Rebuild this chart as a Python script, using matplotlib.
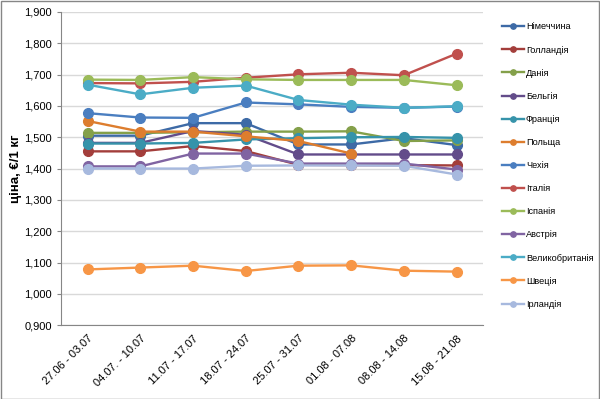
import numpy as np
import matplotlib.pyplot as plt
from matplotlib.ticker import FuncFormatter
from matplotlib.patches import Rectangle

plt.rcParams['font.family'] = ['Liberation Sans', 'DejaVu Sans']

# тижні
weeks = ['27.06 - 03.07', '04.07. - 10.07', '11.07 - 17.07', '18.07 - 24.07',
         '25.07 - 31.07', '01.08 - 07.08', '08.08 - 14.08', '15.08 - 21.08']

# ціни, €/1 кг
nimechchyna = [1.505, 1.505, 1.545, 1.545, 1.477, 1.477, 1.497, 1.475]
hollandiya = [1.455, 1.455, 1.472, 1.456, 1.412, 1.411, 1.411, 1.410]
daniya = [1.514, 1.514, 1.516, 1.518, 1.518, 1.519, 1.488, 1.490]
belhiya = [1.482, 1.482, 1.520, 1.508, 1.445, 1.445, 1.445, 1.445]
frantsiya = [1.480, 1.480, 1.482, 1.493, 1.497, 1.500, 1.501, 1.498]
polshcha = [1.552, 1.518, 1.518, 1.503, 1.488, 1.448, np.nan, np.nan]
chekhiya = [1.577, 1.563, 1.562, 1.611, 1.605, 1.597, 1.594, 1.598]
italiya = [1.673, 1.672, 1.677, 1.690, 1.701, 1.706, 1.698, 1.767]
ispaniya = [1.684, 1.683, 1.692, 1.685, 1.683, 1.683, 1.683, 1.666]
avstriya = [1.407, 1.407, 1.448, 1.448, 1.416, 1.416, 1.416, 1.397]
velykobrytaniya = [1.668, 1.637, 1.658, 1.665, 1.619, 1.604, 1.594, 1.599]
shvetsiya = [1.078, 1.084, 1.090, 1.073, 1.090, 1.091, 1.074, 1.071]
irlandiya = [1.400, 1.400, 1.400, 1.409, 1.410, 1.410, 1.409, 1.381]

series = [
    ('Німеччина', nimechchyna, '#3D6AA6'),
    ('Голландія', hollandiya, '#A33E3B'),
    ('Данія', daniya, '#84A04A'),
    ('Бельгія', belhiya, '#634C8A'),
    ('Франція', frantsiya, '#3693AA'),
    ('Польща', polshcha, '#DD7D2E'),
    ('Чехія', chekhiya, '#4A7EC0'),
    ('Італія', italiya, '#C0504D'),
    ('Іспанія', ispaniya, '#9BBB59'),
    ('Австрія', avstriya, '#8064A2'),
    ('Великобританія', velykobrytaniya, '#4BACC6'),
    ('Швеція', shvetsiya, '#F79646'),
    ('Ірландія', irlandiya, '#A7B9DE'),
]

fig = plt.figure(figsize=(6, 3.99), dpi=100)
ax = fig.add_axes([0.102, 0.185, 0.703, 0.785])

x = np.arange(len(weeks))
for name, vals, col in series:
    ax.plot(x, vals, '-o', color=col, linewidth=1.7, markersize=7, label=name)

ax.set_xlim(-0.5, len(weeks) - 0.5)
ax.set_ylim(0.9, 1.9)
ax.set_yticks(np.arange(0.9, 1.901, 0.1))
ax.yaxis.set_major_formatter(FuncFormatter(lambda v, p: f'{v:.3f}'.replace('.', ',')))
ax.set_xticks(x)
ax.set_xticklabels(weeks, rotation=45, ha='right', rotation_mode='anchor')
ax.tick_params(axis='y', labelsize=8, length=3, color='#868686', colors='#000000')
ax.tick_params(axis='x', labelsize=8, length=0, pad=6)
ax.grid(axis='y', color='#D9D9D9', linewidth=1)
ax.set_axisbelow(True)
for s in ['top', 'right']:
    ax.spines[s].set_visible(False)
ax.spines['left'].set_color('#868686')
ax.spines['bottom'].set_color('#868686')
ax.set_ylabel('ціна, €/1 кг', fontsize=9.5, fontweight='bold', labelpad=2)

ax.legend(loc='upper left', bbox_to_anchor=(0.83, 0.953), bbox_transform=fig.transFigure,
          frameon=False, fontsize=6.6, handlelength=2.4, handletextpad=0.25,
          labelspacing=1.54, markerscale=0.55, borderaxespad=0)

fig.patches.append(Rectangle((0.001, 0.001), 0.998, 0.997, transform=fig.transFigure,
                             fill=False, edgecolor='#868686', linewidth=1))

fig.savefig('out.png', dpi=100)
